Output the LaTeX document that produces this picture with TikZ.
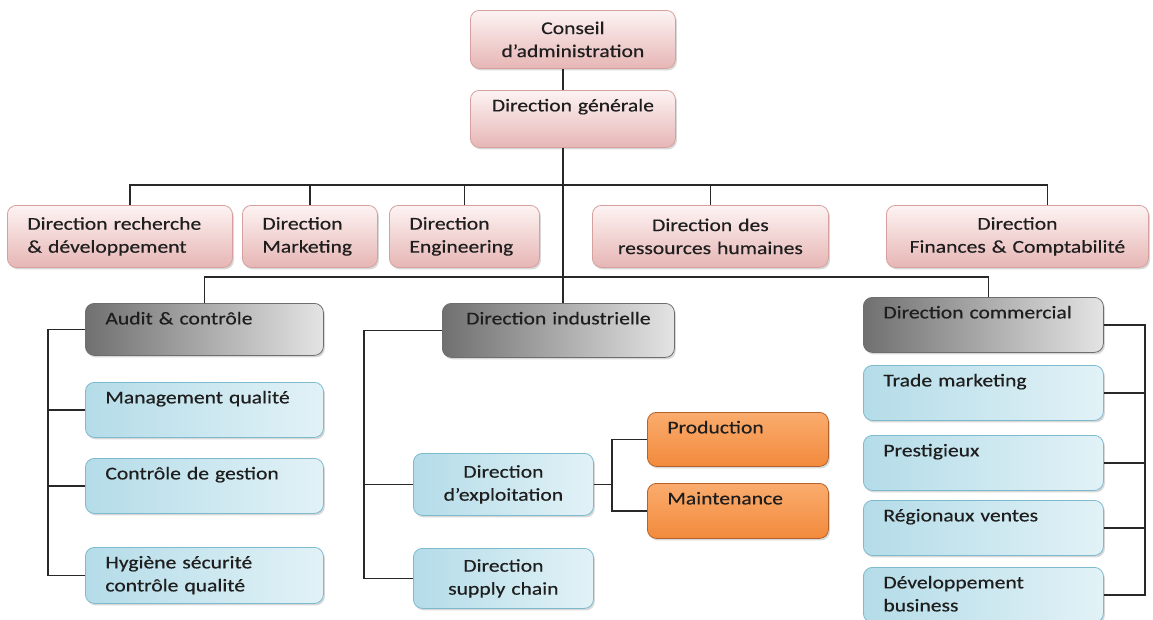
\documentclass[tikz,border=0pt]{standalone}
\usepackage{fontspec}
\setmainfont{Carlito}[FakeStretch=1.2, FakeBold=0.4]
\usetikzlibrary{positioning,shadows,calc}
\definecolor{txt}{RGB}{30,30,30}
\definecolor{connect}{RGB}{40,40,40}
\definecolor{pinkline}{RGB}{214,160,158}
\definecolor{pinktop}{RGB}{253,243,243}
\definecolor{pinkbot}{RGB}{230,182,181}
\definecolor{greyline}{RGB}{110,110,110}
\definecolor{greydark}{RGB}{112,112,112}
\definecolor{greylight}{RGB}{228,228,228}
\definecolor{blueline}{RGB}{125,186,205}
\definecolor{blueleft}{RGB}{180,220,232}
\definecolor{blueright}{RGB}{226,242,247}
\definecolor{orangeline}{RGB}{180,98,42}
\definecolor{orangetop}{RGB}{250,172,110}
\definecolor{orangebot}{RGB}{242,138,60}
\newcommand\boxfont{\fontsize{18}{23}\selectfont}

\begin{document}
\begin{tikzpicture}[
  x=1pt, y=-1pt,
  box/.style={rectangle, rounded corners=9pt, anchor=north west, inner xsep=20pt, inner ysep=6pt,
              font=\boxfont, text=txt, line width=0.8pt,
              drop shadow={opacity=0.3, shadow xshift=1.5pt, shadow yshift=-2pt}},
  pinkbox/.style={box, draw=pinkline, top color=pinktop, bottom color=pinkbot},
  greybox/.style={box, draw=greyline, left color=greydark, right color=greylight},
  bluebox/.style={box, draw=blueline, left color=blueleft, right color=blueright},
  orangebox/.style={box, draw=orangeline, top color=orangetop, bottom color=orangebot},
  mid/.style={align=center, inner xsep=8pt},
  toptext/.style={text height=15pt, text depth=#1},
  conn/.style={draw=connect, line width=1.2pt}
]
\useasboundingbox (0,0) rectangle (1153,619);
\fill[white] (0,0) rectangle (1153,619);

% Board and general management
\node[pinkbox, mid, text width=189pt, minimum height=58pt] (conseil) at (470,10) {Conseil\\d’administration};
\node[pinkbox, mid, text width=189pt, toptext=30pt] (dg) at (470,90) {Direction générale};

% Second row: functional directions
\node[pinkbox, align=left, text width=185pt, minimum height=62pt] (rd) at (7,205) {Direction recherche\\\& développement};
\node[pinkbox, align=left, text width=95pt, minimum height=62pt] (mkt) at (242,205) {Direction\\Marketing};
\node[pinkbox, align=left, text width=110pt, minimum height=62pt] (eng) at (389,205) {Direction\\Engineering};
\node[pinkbox, mid, text width=220pt, minimum height=62pt] (rh) at (592,205) {Direction des\\ressources humaines};
\node[pinkbox, mid, text width=246pt, minimum height=62pt] (fin) at (886,205) {Direction\\Finances \& Comptabilité};

% Third row: operational directions
\node[greybox, align=left, text width=198pt, toptext=25pt] (audit) at (85,303) {Audit \& contrôle};
\node[greybox, mid, text width=216pt, toptext=27pt] (indus) at (442,303) {Direction industrielle};
\node[greybox, align=left, text width=200pt, toptext=28pt] (comm) at (863,297) {Direction commercial};

% Audit group
\node[bluebox, align=left, text width=198pt, toptext=28pt] (mgmt) at (85,382) {Management qualité};
\node[bluebox, align=left, text width=198pt, toptext=28pt] (ctrl) at (85,458) {Contrôle de gestion};
\node[bluebox, align=left, text width=198pt, toptext=29pt] (hyg) at (85,547) {Hygiène sécurité\\contrôle qualité};

% Industrial group
\node[bluebox, mid, text width=164pt, minimum height=62pt] (expl) at (413,453) {Direction\\d’exploitation};
\node[bluebox, mid, text width=164pt, minimum height=60pt] (supply) at (413,548) {Direction\\supply chain};
\node[orangebox, align=left, text width=141pt, toptext=27pt] (prod) at (647,412) {Production};
\node[orangebox, align=left, text width=141pt, toptext=28pt] (maint) at (647,483) {Maintenance};

% Commercial group
\node[bluebox, align=left, text width=200pt, toptext=28pt] (trade) at (863,365) {Trade marketing};
\node[bluebox, align=left, text width=200pt, toptext=28pt] (prest) at (863,435) {Prestigieux};
\node[bluebox, align=left, text width=200pt, toptext=28pt] (reg) at (863,500) {Régionaux ventes};
\node[bluebox, align=left, text width=200pt, toptext=28pt] (dev) at (863,567) {Développement\\business};

% Main spine
\coordinate (spine) at (563,0);
\draw[conn] (conseil.south -| spine) -- (dg.north -| spine);
\draw[conn] (dg.south -| spine) -- (indus.north -| spine);

% Upper bar
\coordinate (upbar) at (563,185);
\draw[conn] ([xshift=10pt]rd.north) |- (upbar);
\draw[conn] ([xshift=30pt]fin.north) |- (upbar);
\draw[conn] (mkt.north) -- (mkt.north |- upbar);
\draw[conn] (eng.north) -- (eng.north |- upbar);
\draw[conn] (rh.north) -- (rh.north |- upbar);

% Lower bar
\coordinate (lowbar) at (563,277);
\draw[conn] (audit.north) |- (lowbar);
\draw[conn] ([xshift=5pt]comm.north) |- (lowbar);

% Left bracket
\coordinate (lspine) at (48,0);
\draw[conn] (audit.west) -| (lspine |- hyg.west) -- (hyg.west);
\draw[conn] (mgmt.west) -- (mgmt.west -| lspine);
\draw[conn] (ctrl.west) -- (ctrl.west -| lspine);

% Middle bracket
\coordinate (mspine) at (364,0);
\draw[conn] (indus.west) -| (mspine |- supply.west) -- (supply.west);
\draw[conn] (expl.west) -- (expl.west -| mspine);
\coordinate (pspine) at (612,0);
\draw[conn] (expl.east) -- (expl.east -| pspine);
\draw[conn] (prod.west) -| (pspine |- maint.west) -- (maint.west);

% Right bracket
\coordinate (rspine) at (1145,0);
\draw[conn] (comm.east) -| (rspine |- dev.east) -- (dev.east);
\draw[conn] (trade.east) -- (trade.east -| rspine);
\draw[conn] (prest.east) -- (prest.east -| rspine);
\draw[conn] (reg.east) -- (reg.east -| rspine);
\end{tikzpicture}
\end{document}
